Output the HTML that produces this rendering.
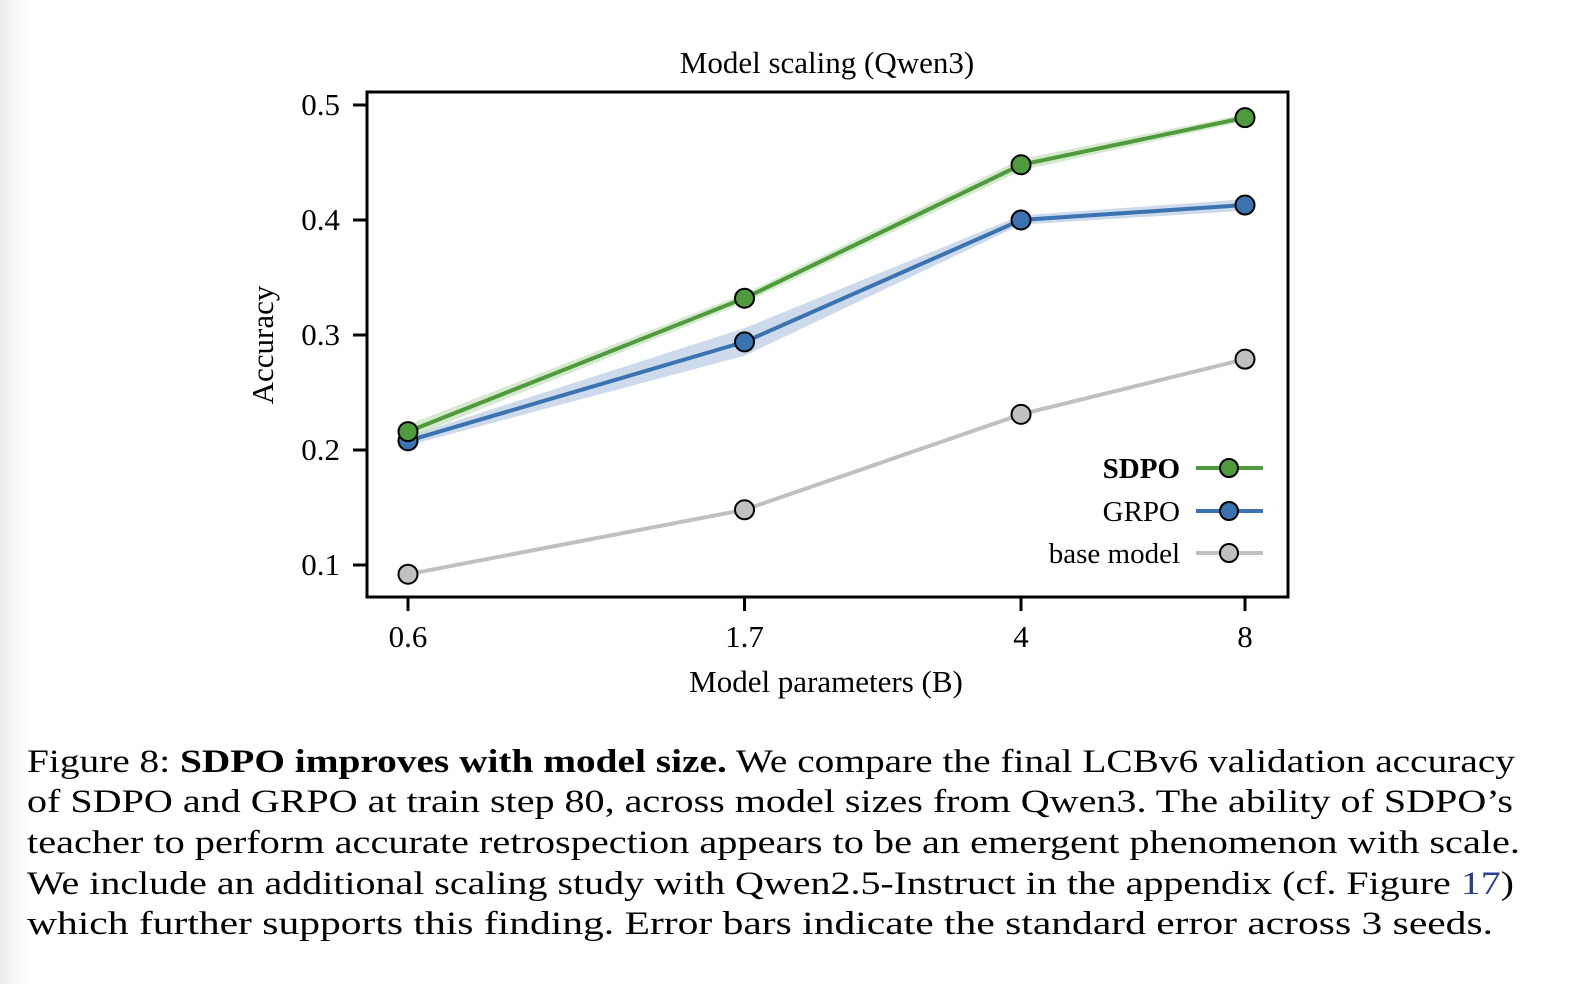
<!DOCTYPE html>
<html><head><meta charset="utf-8"><style>
html,body{margin:0;padding:0;background:#fff;}
svg{display:block;font-family:"Liberation Serif",serif;}
</style></head><body>
<svg id="chart" width="1588" height="984" viewBox="0 0 1588 984" xmlns="http://www.w3.org/2000/svg">
<defs><linearGradient id="lg" x1="0" x2="1"><stop offset="0" stop-color="#ececec"/><stop offset="1" stop-color="#ffffff"/></linearGradient></defs>
<rect x="0" y="0" width="28" height="984" fill="url(#lg)"/>
<text x="827" y="73" font-size="31" text-anchor="middle">Model scaling (Qwen3)</text>
<g id="bands"></g><g id="lines"></g><g id="pts"></g>
<rect x="367" y="92" width="921" height="505" fill="none" stroke="#000" stroke-width="3"/>
<g id="yaxis"></g><g id="xaxis"></g>
<text transform="translate(273,345) rotate(-90)" font-size="31" text-anchor="middle">Accuracy</text>
<text x="826" y="692" font-size="31" text-anchor="middle">Model parameters (B)</text>
<g id="legend">
<text x="1180" y="478" font-size="29" font-weight="bold" text-anchor="end">SDPO</text>
<line x1="1196" y1="468" x2="1263" y2="468" stroke="#4e9a3d" stroke-width="4"/>
<circle cx="1229" cy="468" r="9" fill="#4e9a3d" stroke="#000" stroke-width="2"/>
<text x="1180" y="521" font-size="29" text-anchor="end">GRPO</text>
<line x1="1196" y1="511" x2="1263" y2="511" stroke="#3b73b0" stroke-width="4"/>
<circle cx="1229" cy="511" r="9" fill="#3b73b0" stroke="#000" stroke-width="2"/>
<text x="1180" y="563" font-size="29" text-anchor="end">base model</text>
<line x1="1196" y1="553" x2="1263" y2="553" stroke="#c0c0c0" stroke-width="4"/>
<circle cx="1229" cy="553" r="9" fill="#c0c0c0" stroke="#000" stroke-width="2"/>
</g>
<g font-size="33">
<text x="27" y="772" textLength="1488" lengthAdjust="spacingAndGlyphs">Figure 8: <tspan font-weight="bold">SDPO improves with model size.</tspan> We compare the final LCBv6 validation accuracy</text>
<text x="27" y="812" textLength="1486" lengthAdjust="spacingAndGlyphs">of SDPO and GRPO at train step 80, across model sizes from Qwen3. The ability of SDPO’s</text>
<text x="27" y="853" textLength="1493" lengthAdjust="spacingAndGlyphs">teacher to perform accurate retrospection appears to be an emergent phenomenon with scale.</text>
<text x="27" y="894" textLength="1487" lengthAdjust="spacingAndGlyphs">We include an additional scaling study with Qwen2.5-Instruct in the appendix (cf. Figure <tspan fill="#2a3f8f">17</tspan>)</text>
<text x="27" y="934" textLength="1466" lengthAdjust="spacingAndGlyphs">which further supports this finding. Error bars indicate the standard error across 3 seeds.</text>
</g>
</svg>
<script>
const categories = [0.6, 1.7, 4, 8];
const xTickLabels = ["0.6", "1.7", "4", "8"];
const yTicks = [0.1, 0.2, 0.3, 0.4, 0.5];
const sdpo = [0.216, 0.332, 0.448, 0.489];
const sdpoErr = [0.006, 0.004, 0.005, 0.003];
const grpo = [0.208, 0.294, 0.400, 0.413];
const grpoErr = [0.004, 0.012, 0.004, 0.005];
const base = [0.092, 0.148, 0.231, 0.279];
const baseErr = [0, 0, 0, 0];

const NS = "http://www.w3.org/2000/svg";
const X0 = 408, X1 = 1245;
const lmin = Math.log(categories[0]), lmax = Math.log(categories[categories.length-1]);
function xs(v){ return X0 + (Math.log(v)-lmin)/(lmax-lmin)*(X1-X0); }
function ys(v){ return 565 - (v-0.1)*1150; }
function mk(tag, attrs, parent){ const e=document.createElementNS(NS,tag); for(const k in attrs) e.setAttribute(k,attrs[k]); parent.appendChild(e); return e; }

const ya = document.getElementById('yaxis');
yTicks.forEach(t=>{
  const l = mk('line',{x1:353,x2:367,y1:ys(t),y2:ys(t),stroke:'#000','stroke-width':3},ya);
  
  
  const tx = mk('text',{x:340,y:ys(t)+10,'font-size':31,'text-anchor':'end'},ya);
  tx.textContent = t.toFixed(1);
  
  
});
const xa = document.getElementById('xaxis');
categories.forEach((c,i)=>{
  const l = mk('line',{x1:xs(c),x2:xs(c),y1:597,y2:611,stroke:'#000','stroke-width':3},xa);
  
  
  const tx = mk('text',{x:xs(c),y:647,'font-size':31,'text-anchor':'middle'},xa);
  tx.textContent = xTickLabels[i];
  
  
});

const series = [
  {name:'base', vals:base, err:baseErr, color:'#c0c0c0', band:'#c0c0c0'},
  {name:'grpo', vals:grpo, err:grpoErr, color:'#3b73b0', band:'#9ab5d8'},
  {name:'sdpo', vals:sdpo, err:sdpoErr, color:'#4e9a3d', band:'#a9d39c'}
];
const bg=document.getElementById('bands'), lg=document.getElementById('lines'), pg=document.getElementById('pts');
series.forEach(s=>{
  if (s.err.some(e=>e>0)){
    let d='';
    categories.forEach((c,i)=>{ d += (i?'L':'M')+xs(c)+','+ys(s.vals[i]+s.err[i]); });
    for(let i=categories.length-1;i>=0;i--) d += 'L'+xs(categories[i])+','+ys(s.vals[i]-s.err[i]);
    const b = mk('path',{d:d+'Z',fill:s.band,'fill-opacity':0.5},bg);
    
    
  }
  const pts = categories.map((c,i)=>xs(c)+','+ys(s.vals[i])).join(' ');
  const pl = mk('polyline',{points:pts,fill:'none',stroke:s.color,'stroke-width':4},lg);
  
  
  categories.forEach((c,i)=>{
    const ci = mk('circle',{cx:xs(c),cy:ys(s.vals[i]),r:9.5,fill:s.color,stroke:'#000','stroke-width':2},pg);
    
    
  });
});
</script>
</body></html>
